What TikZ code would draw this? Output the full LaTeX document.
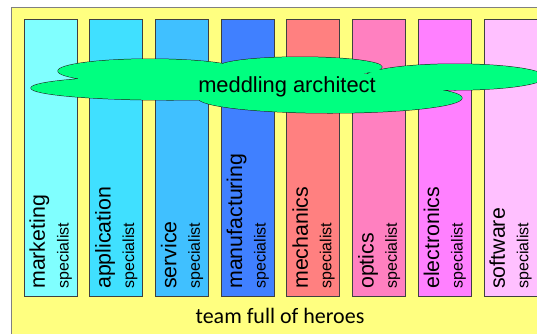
\documentclass[tikz,border=0pt]{standalone}
\usepackage{fontspec}
\setmainfont{Liberation Sans}
\newfontfamily\teamfont{Carlito}

\begin{document}
\begin{tikzpicture}[x=0.75pt,y=0.75pt,yscale=-1,
  column/.style={draw={rgb, 255:red, 64; green, 64; blue, 64 },line width=0.6},
  role/.style={rotate=90,anchor=base west,inner sep=0pt,font=\fontsize{16}{19}\selectfont},
  tag/.style={rotate=90,anchor=base west,inner sep=0pt,font=\fontsize{12}{14}\selectfont}]
\clip (0,0) rectangle (537,333);

%Shape: Rectangle (team frame)
\draw [color={rgb, 255:red, 128; green, 128; blue, 128 }  ,line width=0.75][fill={rgb, 255:red, 255; green, 255; blue, 128 }  ] (11,7) rectangle (560,350) ;

%Shape: Rectangle [marketing]
\draw [column][fill={rgb, 255:red, 128; green, 255; blue, 255 }  ] (24,19.5) rectangle (77,296) ;
%Shape: Rectangle [application]
\draw [column][fill={rgb, 255:red, 64; green, 224; blue, 255 }  ] (89.7,19.5) rectangle (142.7,296) ;
%Shape: Rectangle [service]
\draw [column][fill={rgb, 255:red, 64; green, 192; blue, 255 }  ] (155.4,19.5) rectangle (208.4,296) ;
%Shape: Rectangle [manufacturing]
\draw [column][fill={rgb, 255:red, 64; green, 128; blue, 255 }  ] (221.1,19.5) rectangle (274.1,296) ;
%Shape: Rectangle [mechanics]
\draw [column][fill={rgb, 255:red, 255; green, 128; blue, 128 }  ] (286.8,19.5) rectangle (339.8,296) ;
%Shape: Rectangle [optics]
\draw [column][fill={rgb, 255:red, 255; green, 128; blue, 192 }  ] (352.5,19.5) rectangle (405.5,296) ;
%Shape: Rectangle [electronics]
\draw [column][fill={rgb, 255:red, 255; green, 128; blue, 255 }  ] (418.2,19.5) rectangle (471.2,296) ;
%Shape: Rectangle [software]
\draw [column][fill={rgb, 255:red, 255; green, 192; blue, 255 }  ] (483.9,19.5) rectangle (536.9,296) ;

%Shape: Cloud (outline of the lobes)
\draw [color={rgb, 255:red, 32; green, 32; blue, 32 }  ,line width=0.75]
  (150,71) ellipse [x radius=92, y radius=12]
  (170,88) ellipse [x radius=139, y radius=12]
  (300,67) ellipse [x radius=82, y radius=10]
  (455,77) ellipse [x radius=90, y radius=13]
  (330,98) ellipse [x radius=132, y radius=15] ;
%Shape: Cloud (fill over the inner lines)
\fill [color={rgb, 255:red, 0; green, 255; blue, 128 }  ]
  (150,71) ellipse [x radius=92, y radius=12]
  (170,88) ellipse [x radius=139, y radius=12]
  (300,67) ellipse [x radius=82, y radius=10]
  (455,77) ellipse [x radius=90, y radius=13]
  (330,98) ellipse [x radius=132, y radius=15]
  (300,82) ellipse [x radius=100, y radius=11] ;

% Text Node
\node (arch) [anchor=base,inner sep=0pt,font=\fontsize{16.4}{19}\selectfont] at (287,92) {meddling architect};

% Text Node
\node (mkt) [role] at (45,289) {marketing};
\node (mkts) [tag] at (68.5,289) {specialist};
% Text Node
\node (app) [role] at (110.7,289) {application};
\node (apps) [tag] at (134.2,289) {specialist};
% Text Node
\node (srv) [role] at (176.4,289) {service};
\node (srvs) [tag] at (199.9,289) {specialist};
% Text Node
\node (mfg) [role] at (242.1,289) {manufacturing};
\node (mfgs) [tag] at (265.6,289) {specialist};
% Text Node
\node (mech) [role] at (307.8,289) {mechanics};
\node (mechs) [tag] at (331.3,289) {specialist};
% Text Node
\node (opt) [role] at (373.5,289) {optics};
\node (opts) [tag] at (397,289) {specialist};
% Text Node
\node (elec) [role] at (439.2,289) {electronics};
\node (elecs) [tag] at (462.7,289) {specialist};
% Text Node
\node (sw) [role] at (504.9,289) {software};
\node (sws) [tag] at (528.4,289) {specialist};

% Text Node
\node (team) [anchor=base,inner sep=0pt,font=\teamfont\fontsize{16.5}{19}\selectfont] at (280,323) {team full of heroes};

\end{tikzpicture}
\end{document}
